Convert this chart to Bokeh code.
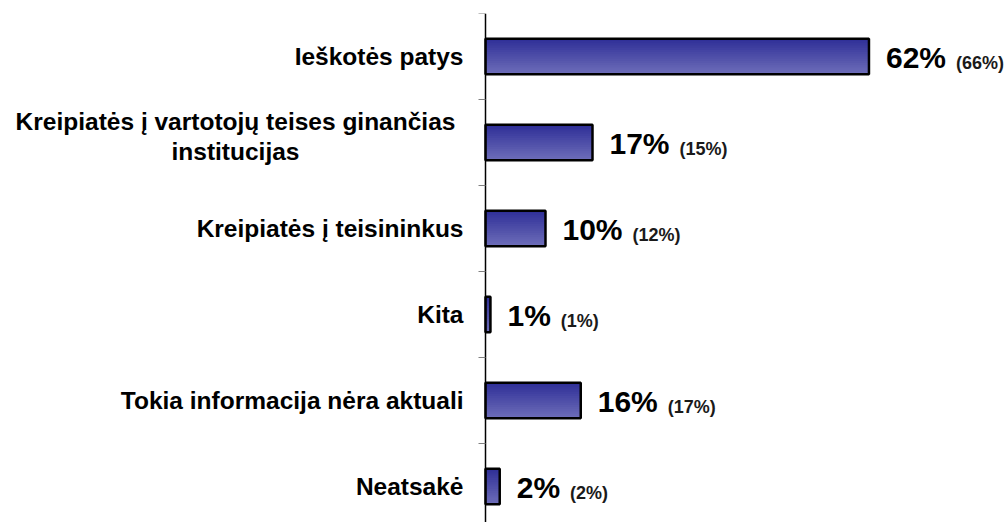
from bokeh.plotting import figure
from bokeh.models import Range1d, FixedTicker, ColumnDataSource
from bokeh.core.properties import value
from bokeh.embed import file_html
from bokeh.resources import INLINE

categories = [
    "Ieškotės patys",
    "Kreipiatės į vartotojų teises ginančias\ninstitucijas",
    "Kreipiatės į teisininkus",
    "Kita",
    "Tokia informacija nėra aktuali",
    "Neatsakė",
]
values = [62.0, 17.3, 9.7, 0.8, 15.4, 2.3]
labels = ["62%", "17%", "10%", "1%", "16%", "2%"]
prev_labels = ["(66%)", "(15%)", "(12%)", "(1%)", "(17%)", "(2%)"]

n = len(categories)
ys = [n - 1 - i for i in range(n)]  # top category highest

PX_PER_UNIT = 6.185
AXIS_X = 485
W, H = 1008, 522
p = figure(width=W, height=H, output_backend="svg", toolbar_location=None,
           x_range=Range1d(-AXIS_X / PX_PER_UNIT, (W - AXIS_X) / PX_PER_UNIT),
           y_range=Range1d(5.5 - (H - 13) / 86.0, 5.5),
           min_border_left=0, min_border_right=0, min_border_top=13, min_border_bottom=0)
p.outline_line_color = None
p.xaxis.visible = False
p.xgrid.visible = False
p.ygrid.visible = False
p.background_fill_color = "white"

FONT = "Liberation Sans"
yax = p.yaxis[0]
yax.fixed_location = 0
yax.ticker = FixedTicker(ticks=ys, minor_ticks=[y + 0.5 for y in ys])
overrides = {}
multiline = []
for y, c in zip(ys, categories):
    if "\n" in c:
        overrides[y] = " "
        multiline.append((y, c))
    else:
        overrides[y] = c
yax.major_label_overrides = overrides
yax.major_tick_line_color = None
yax.major_tick_out = 0
yax.major_tick_in = 0
yax.minor_tick_line_color = "#808080"
yax.minor_tick_out = 7
yax.minor_tick_in = 0
yax.axis_line_color = "black"
yax.axis_line_width = 1.5
yax.major_label_text_font = FONT
yax.major_label_text_font_style = "bold"
yax.major_label_text_font_size = "24.5px"
yax.major_label_text_color = "black"
yax.major_label_standoff = 15

ml_src = ColumnDataSource(dict(x=[0] * len(multiline), y=[m[0] for m in multiline],
                               t=[m[1] for m in multiline]))
p.text(x="x", y="y", text="t", source=ml_src, x_offset=-250, y_offset=-6,
       text_align="center", text_baseline="middle",
       text_font=value(FONT), text_font_style="bold",
       text_font_size="24.5px", text_color="black", text_line_height=1.13)

# gradient fill via overlapping horizontal strips
bar_h = 0.41
nstrip = 16
top_c = (48, 48, 152)
bot_c = (108, 108, 184)
L, R, T, B, C = [], [], [], [], []
for y, v in zip(ys, values):
    for k in range(nstrip):
        t = k / (nstrip - 1)
        col = tuple(int(round(top_c[j] + (bot_c[j] - top_c[j]) * t)) for j in range(3))
        L.append(0)
        R.append(v)
        T.append(y + bar_h / 2 - k * bar_h / nstrip)
        B.append(y - bar_h / 2)
        C.append("#%02x%02x%02x" % col)
p.quad(left=L, right=R, top=T, bottom=B, fill_color=C, line_color=None)
p.quad(left=[0] * n, right=values, top=[y + bar_h / 2 for y in ys],
       bottom=[y - bar_h / 2 for y in ys], fill_color=None,
       line_color="black", line_width=2.5)

src = ColumnDataSource(dict(x=values, y=ys, t=labels, t2=prev_labels,
                            off2=[17 + 30 * (0.556 * (len(s) - 1) + 0.889) + 10 for s in labels]))
p.text(x="x", y="y", text="t", source=src, x_offset=17, y_offset=1,
       text_font=value(FONT), text_font_style="bold",
       text_font_size="30px", text_color="black", text_baseline="middle")
p.text(x="x", y="y", text="t2", source=src, x_offset="off2", y_offset=6,
       text_font=value(FONT), text_font_style="bold",
       text_font_size="18px", text_color="#1a1a1a", text_baseline="middle")

open("out.html", "w").write(file_html(p, INLINE))
